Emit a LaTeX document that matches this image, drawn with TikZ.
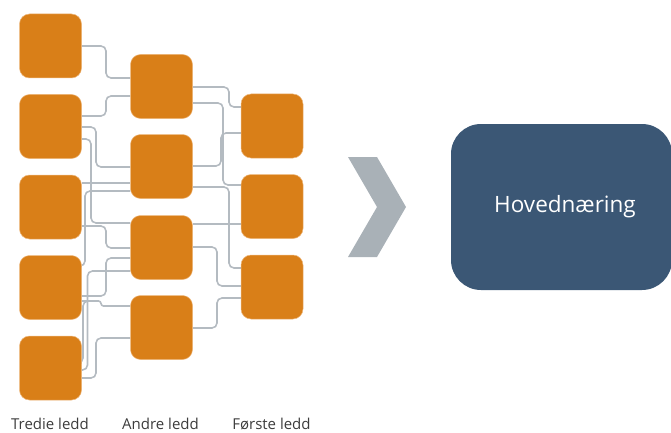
\documentclass[tikz,border=0pt]{standalone}
\usepackage{fontspec}
\setmainfont{Open Sans}
\pgfdeclarelayer{bg}
\pgfsetlayers{bg,main}
\definecolor{ledd}{HTML}{D97F18}
\definecolor{leddedge}{HTML}{EDB67A}
\definecolor{wirecol}{HTML}{B4BBC1}
\definecolor{navy}{HTML}{3B5775}
\definecolor{chev}{HTML}{A9B1B7}
\definecolor{lblcol}{HTML}{3C3C3C}
\tikzset{
  leddbox/.style={fill=ledd, draw=leddedge, line width=0.5pt, rounded corners=10pt,
    minimum width=62pt, minimum height=64pt, inner sep=0pt},
  wire/.style={draw=wirecol, line width=1.6pt, rounded corners=5pt},
  mainbox/.style={fill=navy, rounded corners=30pt, minimum width=221pt,
    minimum height=166pt, inner sep=0pt, text=white, font=\fontsize{22.5}{27}\selectfont},
  lbl/.style={anchor=base, text=lblcol, font=\fontsize{15}{18}\selectfont, inner sep=0pt}
}
\newcommand\elbowconn[5]{\draw[wire] (#1.east |- 0,#2) -- (#3,#2) -- (#3,#5) -- (#4.west |- 0,#5);}
\begin{document}
\begin{tikzpicture}[x=1pt,y=-1pt]
\useasboundingbox (0,0) rectangle (671,433);
% column 1
\node[leddbox] (A1) at (50.5,46) {};
\node[leddbox] (A2) at (50.5,126.5) {};
\node[leddbox] (A3) at (50.5,207) {};
\node[leddbox] (A4) at (50.5,287.5) {};
\node[leddbox] (A5) at (50.5,368) {};
% column 2
\node[leddbox] (B1) at (161.5,86.5) {};
\node[leddbox] (B2) at (161.5,166.5) {};
\node[leddbox] (B3) at (161.5,247.5) {};
\node[leddbox] (B4) at (161.5,327.5) {};
% column 3
\node[leddbox] (C1) at (272,126) {};
\node[leddbox] (C2) at (272,206.5) {};
\node[leddbox] (C3) at (272,287) {};
% main
\node[mainbox] (H) at (561.5,207) {\hspace*{7pt}Hovednæring};
% chevron
\fill[chev] (348,157) -- (377,157) -- (406,207) -- (377,257) -- (348,257) -- (377,207) -- cycle;
% labels
\node[lbl] (L1) at (50,429) {Tredie ledd};
\node[lbl] (L2) at (160.5,429) {Andre ledd};
\node[lbl] (L3) at (271.5,429) {Første ledd};
\coordinate (J) at (96,301);
\begin{pgfonlayer}{bg}
\elbowconn{A1}{46}{106}{B1}{78}
\elbowconn{A2}{116}{106}{B1}{96}
\elbowconn{A2}{127}{96}{B2}{167}
\elbowconn{A2}{139}{91}{B3}{223}
\draw[wire] (A3.east |- 0,183) -- (B2.west |- 0,183);
\elbowconn{A3}{226}{106}{B3}{248}
\elbowconn{A4}{266}{85}{B2}{191}
\elbowconn{A4}{296}{106}{B3}{258}
\elbowconn{A5}{370}{87.5}{B3}{271}
\draw[wire, rounded corners=2.5pt] (A4.east |- 0,301) -- (101,301) -- (101,306) -- (B4.west |- 0,306);
\draw[wire] (A5.east |- 0,363) -- (83,363) -- (83,301) -- (J);
\elbowconn{A5}{378}{96}{B4}{338}
\elbowconn{B1}{87}{229}{C1}{107}
\elbowconn{B1}{103}{223}{C2}{185}
\elbowconn{B2}{166}{221}{C1}{133}
\elbowconn{B2}{187}{229}{C3}{268}
\draw[wire] (B3.east |- 0,224) -- (C2.west |- 0,224);
\elbowconn{B3}{247}{217}{C3}{286}
\elbowconn{B4}{328}{217}{C3}{298}
\end{pgfonlayer}
\end{tikzpicture}
\end{document}
